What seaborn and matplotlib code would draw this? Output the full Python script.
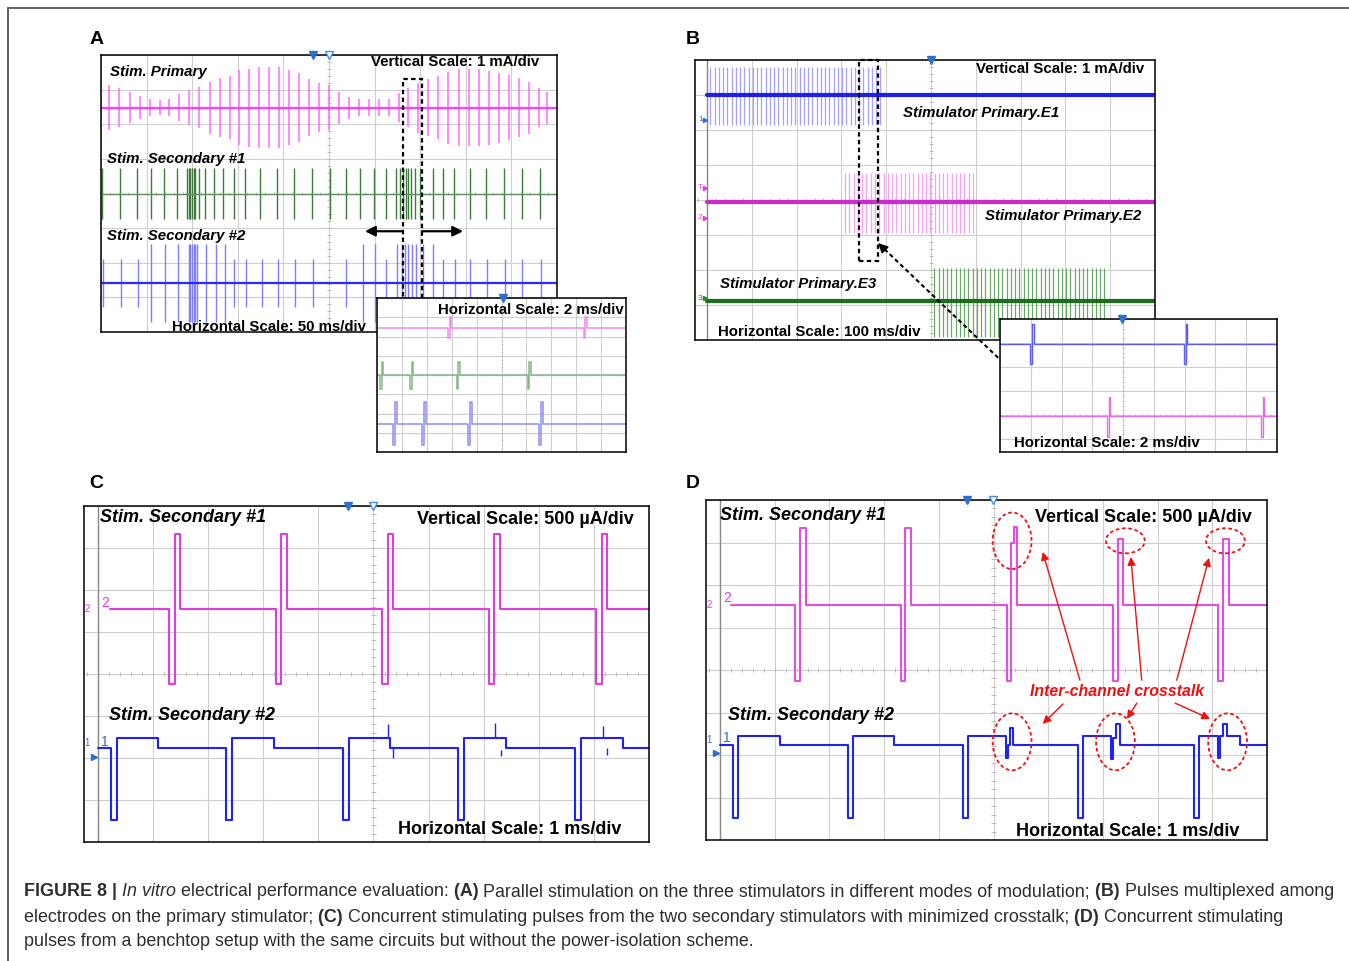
import numpy as np
import pandas as pd
import matplotlib.pyplot as plt
import seaborn as sns
from matplotlib.patches import Rectangle, Ellipse
from matplotlib.lines import Line2D

W, H = 1349, 961

# ---------------- panel A : 50 ms/div, values in divisions ----------------
A_PRI_BASE = 2.48
A_PRI_T = [0.18, 0.40, 0.64, 0.86, 1.08, 1.30, 1.50, 1.72, 1.94, 2.16, 2.38, 2.60,
           2.82, 3.03, 3.25, 3.47, 3.68, 3.90, 4.12, 4.34, 4.56, 4.78, 5.00, 5.22,
           5.44, 5.66, 5.88, 6.10, 6.32, 6.54, 6.74, 6.96, 7.18, 7.40, 7.62, 7.84,
           8.06, 8.28, 8.50, 8.72, 8.94, 9.16, 9.38, 9.60, 9.79]
A_PRI_AMP = [0.66, 0.56, 0.44, 0.34, 0.25, 0.22, 0.24, 0.40, 0.50, 0.60, 0.75, 0.85,
             0.90, 1.08, 1.13, 1.18, 1.18, 1.16, 1.09, 1.00, 0.83, 0.70, 0.65, 0.46,
             0.32, 0.24, 0.24, 0.24, 0.25, 0.41, 0.56, 0.72, 0.82, 0.90, 1.04, 1.11,
             1.11, 1.11, 1.07, 1.01, 0.94, 0.85, 0.75, 0.56, 0.46]

A_SEC1_BASE = 0.0
A_SEC1_T = [0.02, 0.42, 0.78, 1.10, 1.39, 1.66, 1.88, 1.93, 1.96, 2.00, 2.04, 2.07,
            2.16, 2.29, 2.48, 2.67, 2.91, 3.15, 3.48, 3.85, 4.23, 4.62, 5.02, 5.38,
            5.69, 5.99, 6.26, 6.48, 6.56, 6.63, 6.69, 6.74, 6.79, 6.89, 7.00, 7.27,
            7.49, 7.75, 8.10, 8.45, 8.83, 9.23, 9.62]
A_SEC1_UP = 0.74
A_SEC1_DN = 0.75

A_SEC2_BASE = -2.58
A_SEC2_T = [0.04, 0.44, 0.81, 1.10, 1.41, 1.68, 1.93, 1.96, 2.00, 2.04, 2.07, 2.11,
            2.31, 2.53, 2.71, 2.91, 3.19, 3.52, 3.88, 4.25, 4.64, 5.38, 5.75, 6.01,
            6.26, 6.50, 6.59, 6.67, 6.74, 6.81, 6.91, 7.07, 7.29, 7.51, 7.77, 8.10,
            8.46, 8.86, 9.23, 9.65]
A_SEC2_AMP = [0.70, 0.70, 0.70, 1.13, 1.13, 1.13, 1.13, 1.13, 1.13, 1.13, 1.13, 1.13,
              1.13, 1.13, 1.13, 0.70, 0.70, 0.70, 0.70, 0.70, 0.70, 0.70, 1.13, 1.13,
              0.70, 1.13, 1.13, 1.13, 1.13, 1.13, 1.13, 1.13, 1.13, 0.70, 0.70, 0.70,
              0.70, 0.70, 0.70, 0.70]

# inset A : 2 ms/div (primary, secondary #1, secondary #2)
IA_BASE = [2.43, 0.0, -2.52]
IA_T = [[2.85, 8.30], [0.12, 1.32, 3.20, 6.05], [0.65, 1.82, 3.67, 6.52]]
IA_NEG = [0.49, 0.73, 1.13]
IA_POS = [0.56, 0.70, 1.10]
IA_W = 0.07

# ---------------- panel B : 100 ms/div ----------------
B_BASE = [3.0, -0.07, -2.88]
B_E1_T = [0.07, 0.17, 0.26, 0.36, 0.45, 0.55, 0.64, 0.74, 0.83, 0.93, 1.02, 1.12,
          1.21, 1.31, 1.40, 1.50, 1.59, 1.69, 1.78, 1.88, 1.97, 2.07, 2.16, 2.26,
          2.35, 2.45, 2.54, 2.64, 2.73, 2.83, 2.92, 3.02, 3.11, 3.21, 3.30, 3.40,
          3.49, 3.59, 3.68, 3.78, 3.87]
B_E2_T = [3.08, 3.18, 3.27, 3.37, 3.46, 3.56, 3.65, 3.75, 3.84, 3.94, 4.03, 4.13,
          4.22, 4.32, 4.41, 4.51, 4.60, 4.70, 4.79, 4.89, 4.98, 5.08, 5.17, 5.27,
          5.36, 5.46, 5.55, 5.65, 5.74, 5.84, 5.93]
B_E3_T = [5.07, 5.17, 5.26, 5.36, 5.45, 5.55, 5.64, 5.74, 5.83, 5.93, 6.02, 6.12,
          6.21, 6.31, 6.40, 6.50, 6.59, 6.69, 6.78, 6.88, 6.97, 7.07, 7.16, 7.26,
          7.35, 7.45, 7.54, 7.64, 7.73, 7.83, 7.92, 8.02, 8.11, 8.21, 8.30, 8.40,
          8.49, 8.59, 8.68, 8.78, 8.87]
B_UP = [0.80, 0.85, 0.93]
B_DN = [0.86, 0.87, 1.04]

# inset B : 2 ms/div (E1, E2)
IB_BASE = [2.95, -0.05]
IB_T = [[0.97, 5.97], [3.47, 8.47]]
IB_NEG = [0.84, 0.85]
IB_POS = [0.83, 0.80]
IB_W = 0.06

# ---------------- panel C : 1 ms/div ----------------
C_MAG_BASE = 1.55
C_MAG_T = [1.29, 3.23, 5.16, 7.09, 9.04]
C_MAG_SHAPE = [(0.10, -1.78), (0.10, 1.79)]
C_BLU_BASE = -1.77
C_BLU_T = [0.23, 2.33, 4.44, 6.54, 8.66]
C_BLU_SHAPE = [(0.11, -1.70), (0.75, 0.24)]
C_SPIKE_T = [5.26, 5.36, 7.21, 7.31, 9.16, 9.23]
C_SPIKE_LO = [-1.53, -1.77, -1.53, -1.80, -1.53, -1.77]
C_SPIKE_HI = [-1.20, -2.01, -1.16, -1.95, -1.24, -1.93]

# ---------------- panel D : 1 ms/div, without power isolation ----------------
D_MAG_BASE = 1.54
D_MAG_T = [1.37, 3.30, 5.24, 7.18, 9.11]
D_MAG_SHAPES = [
    [(0.09, -1.80), (0.11, 1.80)],
    [(0.09, -1.80), (0.11, 1.80)],
    [(0.08, -1.80), (0.06, 1.44), (0.05, 1.83)],
    [(0.09, -1.80), (0.10, 1.54)],
    [(0.09, -1.80), (0.10, 1.54)],
]
D_BLU_BASE = -1.76
D_BLU_T = [0.24, 2.34, 4.45, 6.54, 8.67]
D_BLU_SHAPES = [
    [(0.09, -1.72), (0.76, 0.21)],
    [(0.09, -1.72), (0.75, 0.21)],
    [(0.09, -1.72), (0.68, 0.21), (0.05, -0.30), (0.04, 0.0), (0.05, 0.39)],
    [(0.09, -1.72), (0.52, 0.21), (0.03, -0.34), (0.06, 0.17), (0.07, 0.50)],
    [(0.09, -1.72), (0.35, 0.21), (0.03, -0.30), (0.05, 0.21), (0.08, 0.50), (0.24, 0.21)],
]
D_RING_XY = [(5.34, 3.04), (7.41, 3.04), (9.24, 3.04), (5.34, -1.69), (7.23, -1.69), (9.28, -1.69)]
D_RING_H = [1.33, 0.59, 0.59, 1.34, 1.34, 1.34]

CAPTION = [
    [("FIGURE 8 |", "bold", "normal"), (" In vitro", "normal", "italic"),
     (" electrical performance evaluation:", "normal", "normal"), (" (A)", "bold", "normal"),
     (" Parallel stimulation on the three stimulators in different modes of modulation;", "normal", "normal"),
     (" (B)", "bold", "normal"), (" Pulses multiplexed among", "normal", "normal")],
    [("electrodes on the primary stimulator;", "normal", "normal"), (" (C)", "bold", "normal"),
     (" Concurrent stimulating pulses from the two secondary stimulators with minimized crosstalk;", "normal", "normal"),
     (" (D)", "bold", "normal"), (" Concurrent stimulating", "normal", "normal")],
    [("pulses from a benchtop setup with the same circuits but without the power-isolation scheme.", "normal", "normal")],
]

GRID = "#cfcfcf"
TICK = "#b4b4b4"

sns.set_style("white")
plt.rcParams['font.family'] = ['Liberation Sans', 'DejaVu Sans']

fig = plt.figure(figsize=(W / 100, H / 100), dpi=100)


def px_rect(x0, y0, x1, y1):
    return [x0 / W, 1 - y1 / H, (x1 - x0) / W, (y1 - y0) / H]


def scope(box, xlim, ylim, xc, yc, z=1):
    # oscilloscope screen: div grid + centre cross with 0.2 div ticks
    ax = fig.add_axes(px_rect(*box), zorder=z)
    ax.set_facecolor("white")
    gx = np.arange(np.ceil(xlim[0]), xlim[1] + 0.01)
    gy = np.arange(np.ceil(ylim[0]), ylim[1] + 0.01)
    ax.vlines(gx, ylim[0], ylim[1], color=GRID, lw=0.8, zorder=0)
    ax.hlines(gy, xlim[0], xlim[1], color=GRID, lw=0.8, zorder=0)
    tx = np.arange(np.ceil(xlim[0] * 5) / 5, xlim[1], 0.2)
    ty = np.arange(np.ceil(ylim[0] * 5) / 5, ylim[1], 0.2)
    ax.vlines(tx, yc - 0.05, yc + 0.05, color=TICK, lw=0.6, zorder=0)
    ax.hlines(ty, xc - 0.04, xc + 0.04, color=TICK, lw=0.6, zorder=0)
    ax.set(xlim=xlim, ylim=ylim, xticks=[], yticks=[])
    for s in ax.spines.values():
        s.set_visible(True)
        s.set_color("black")
        s.set_linewidth(1.1)
    return ax


def trace(ax, xs, ys, color, lw):
    xl, yl = ax.get_xlim(), ax.get_ylim()
    sns.lineplot(x=xs, y=ys, sort=False, estimator=None, color=color, lw=lw,
                 ax=ax, legend=False)
    ax.set(xlim=xl, ylim=yl, xlabel="", ylabel="")


def wave(t0, t1, base, starts, shapes):
    xs, ys = [t0], [base]
    per_pulse = isinstance(shapes[0][0], (list, tuple))
    for k, s in enumerate(starts):
        shape = shapes[k] if per_pulse else shapes
        t = s
        xs.append(t)
        ys.append(base)
        for w, off in shape:
            xs += [t, t + w]
            ys += [base + off, base + off]
            t += w
        xs.append(t)
        ys.append(base)
    xs.append(t1)
    ys.append(base)
    return xs, ys


def ftxt(px, py, s, size, weight="bold", style="normal", color="black", ha="left"):
    fig.text(px / W, 1 - py / H, s, fontsize=size, fontweight=weight, fontstyle=style,
             color=color, ha=ha, va="center", zorder=10)


def trig(ax, xs, top):
    ax.plot(xs[:1], [top], marker="v", ms=6, color="#2f6fd0", clip_on=False, zorder=5)
    if len(xs) > 1:
        ax.plot(xs[1:], [top] * (len(xs) - 1), marker="v", ms=6, mfc="white",
                mec="#4a8be0", ls="none", clip_on=False, zorder=5)


# ================= A =================
axA = scope((101, 55, 557, 332), (0, 10), (-4, 4), 5, 0)
pri_amp = np.array(A_PRI_AMP)
axA.vlines(A_PRI_T, A_PRI_BASE - pri_amp, A_PRI_BASE + pri_amp, color="#ff6bff", lw=1.1)
axA.vlines(A_SEC1_T, A_SEC1_BASE - A_SEC1_DN, A_SEC1_BASE + A_SEC1_UP, color="#3f7a3f", lw=1.0)
sec2_amp = np.array(A_SEC2_AMP)
axA.vlines(A_SEC2_T, A_SEC2_BASE - sec2_amp, A_SEC2_BASE + sec2_amp, color="#7d7dff", lw=1.0)
trace(axA, [0, 10], [A_PRI_BASE] * 2, "#ff3cff", 1.6)
trace(axA, [0, 10], [A_SEC1_BASE] * 2, "#5f8f5f", 1.0)
trace(axA, [0, 10], [A_SEC2_BASE] * 2, "#2a2aff", 1.6)
trig(axA, [4.65, 5.0], 4)
axA.add_patch(Rectangle((6.62, -3.6), 0.42, 6.91, fill=False, ec="black", lw=1.6,
                        ls=(0, (2, 1.5)), clip_on=False, zorder=6))
for x_from, x_to in [(6.62, 5.79), (7.04, 7.94)]:
    axA.annotate("", xy=(x_to, -1.09), xytext=(x_from, -1.09),
                 arrowprops=dict(arrowstyle="-|>", color="black", lw=1.6,
                                 mutation_scale=15, shrinkA=0, shrinkB=0))

axIA = scope((377, 298, 626, 452), (0, 10), (-4, 4), 5, 0, z=2)
for base, ts, neg, pos, col in zip(IA_BASE, IA_T, IA_NEG, IA_POS,
                                   ["#ef8cef", "#86b586", "#8e8ef2"]):
    xs, ys = wave(0, 10, base, ts, [(IA_W, -neg), (IA_W, pos)])
    trace(axIA, xs, ys, col, 1.1)
trig(axIA, [5.06], 4)

ftxt(90, 40, "A", 14)
ftxt(110, 72, "Stim. Primary", 10.8, style="italic")
ftxt(371, 62, "Vertical Scale: 1 mA/div", 10.8)
ftxt(107, 159, "Stim. Secondary #1", 10.8, style="italic")
ftxt(107, 236, "Stim. Secondary #2", 10.8, style="italic")
ftxt(172, 327, "Horizontal Scale: 50 ms/div", 10.8)
ftxt(438, 310, "Horizontal Scale: 2 ms/div", 10.8)

# ================= B =================
axB = scope((695, 60, 1155, 340), (-0.268, 10), (-4, 4), 5, 0)
axB.axvline(0, color="#8a8a8a", lw=1.0, zorder=0)
for ts, base, up, dn, col in zip([B_E1_T, B_E2_T, B_E3_T], B_BASE, B_UP, B_DN,
                                 ["#a3a3ff", "#f2a2f2", "#6aa86a"]):
    axB.vlines(ts, base - dn, base + up, color=col, lw=0.9)
for base, col in zip(B_BASE, ["#1f1fe6", "#cc2ccc", "#1c6e1c"]):
    trace(axB, [0, 10], [base] * 2, col, 3.0)
trig(axB, [5.0], 4)
for yy, s, col in [(2.29, "1", "#2f6fd0"), (0.35, "T", "#e040e0"),
                   (-0.51, "2", "#e040e0"), (-2.80, "3", "#2a8a2a")]:
    axB.text(-0.15, yy, s, fontsize=6, color=col, ha="center", va="center")
    axB.plot([-0.05], [yy], marker=">", ms=3, color=col, clip_on=False)
axB.add_patch(Rectangle((3.39, -1.74), 0.43, 5.74, fill=False, ec="black", lw=1.6,
                        ls=(0, (2, 1.5)), clip_on=False, zorder=6))
axB.plot([6.50, 3.90], [-4.51, -1.33], color="black", lw=1.5, ls=(0, (2, 1.5)),
         clip_on=False, zorder=6)
axB.annotate("", xy=(3.82, -1.23), xytext=(3.97, -1.42),
             arrowprops=dict(arrowstyle="-|>", color="black", lw=1.2,
                             mutation_scale=14, shrinkA=0, shrinkB=0))

axIB = scope((1000, 319, 1277, 452), (0, 9), (-1.53, 4), 4, 0, z=2)
for base, ts, neg, pos, col in zip(IB_BASE, IB_T, IB_NEG, IB_POS, ["#5c5cf0", "#e070e0"]):
    xs, ys = wave(0, 9, base, ts, [(IB_W, -neg), (IB_W, pos)])
    trace(axIB, xs, ys, col, 1.0)
trig(axIB, [3.96], 4)

ftxt(686, 40, "B", 14)
ftxt(976, 69, "Vertical Scale: 1 mA/div", 10.8)
ftxt(903, 113, "Stimulator Primary.E1", 10.8, style="italic")
ftxt(985, 216, "Stimulator Primary.E2", 10.8, style="italic")
ftxt(720, 284, "Stimulator Primary.E3", 10.8, style="italic")
ftxt(718, 332, "Horizontal Scale: 100 ms/div", 10.8)
ftxt(1014, 443, "Horizontal Scale: 2 ms/div", 10.8)

# ================= C =================
axC = scope((84, 506, 649, 842), (-0.254, 10), (-4, 4), 5, 0)
axC.axvline(0, color="#8a8a8a", lw=1.0, zorder=0)
xs, ys = wave(0.21, 10, C_MAG_BASE, C_MAG_T, C_MAG_SHAPE)
trace(axC, xs, ys, "#e03ce0", 1.5)
xs, ys = wave(0.0, 10, C_BLU_BASE, C_BLU_T, C_BLU_SHAPE)
trace(axC, xs, ys, "#1f1fff", 1.5)
axC.vlines(C_SPIKE_T, C_SPIKE_LO, C_SPIKE_HI, color="#1f1fff", lw=1.0)
trig(axC, [4.54, 4.99], 4)

ftxt(89, 484, "C", 14)
ftxt(100, 517, "Stim. Secondary #1", 13, style="italic")
ftxt(417, 520, "Vertical Scale: 500 µA/div", 13)
ftxt(109, 716, "Stim. Secondary #2", 13, style="italic")
ftxt(398, 830, "Horizontal Scale: 1 ms/div", 13)

# ================= D =================
axD = scope((706, 500, 1267, 840), (-0.256, 10), (-4, 4), 5, 0)
axD.axvline(0, color="#8a8a8a", lw=1.0, zorder=0)
xs, ys = wave(0.2, 10, D_MAG_BASE, D_MAG_T, D_MAG_SHAPES)
trace(axD, xs, ys, "#e050e0", 1.5)
xs, ys = wave(0.0, 10, D_BLU_BASE, D_BLU_T, D_BLU_SHAPES)
trace(axD, xs, ys, "#2323f0", 1.5)
trig(axD, [4.52, 4.99], 4)

for ax, mb, bb in [(axC, C_MAG_BASE, C_BLU_BASE), (axD, D_MAG_BASE, D_BLU_BASE)]:
    ax.text(-0.2, mb, "2", fontsize=7, color="#e040e0", ha="center", va="center")
    ax.text(0.06, mb + 0.15, "2", fontsize=10, color="#e040e0", ha="left", va="center")
    ax.text(-0.2, bb + 0.12, "1", fontsize=7, color="#2f6fd0", ha="center", va="center")
    ax.text(0.06, bb + 0.16, "1", fontsize=10, color="#2f6fd0", ha="left", va="center")
    ax.plot([-0.08], [bb - 0.2], marker=">", ms=4, color="#2f6fd0", clip_on=False)

for (cx, cy), hh in zip(D_RING_XY, D_RING_H):
    axD.add_patch(Ellipse((cx, cy), 0.71, hh, fill=False, ec="#ee1111", lw=1.3,
                          ls=(0, (2, 1.5)), zorder=6))
for (x0, y0), (x1, y1) in [((6.58, -0.24), (5.90, 2.78)), ((7.71, -0.24), (7.51, 2.66)),
                           ((8.35, -0.24), (8.94, 2.64)), ((6.27, -0.80), (5.90, -1.27)),
                           ((7.62, -0.78), (7.44, -1.15)), ((8.32, -0.78), (8.96, -1.15))]:
    axD.annotate("", xy=(x1, y1), xytext=(x0, y0),
                 arrowprops=dict(arrowstyle="-|>", color="#ee1111", lw=1.0,
                                 mutation_scale=12, shrinkA=0, shrinkB=0))

ftxt(686, 484, "D", 14)
ftxt(720, 516, "Stim. Secondary #1", 13, style="italic")
ftxt(1035, 518, "Vertical Scale: 500 µA/div", 13)
ftxt(728, 716, "Stim. Secondary #2", 13, style="italic")
ftxt(1016, 831, "Horizontal Scale: 1 ms/div", 13)
ftxt(1117, 692, "Inter-channel crosstalk", 11.4, style="italic", color="#ee1111", ha="center")

# ================= frame + caption =================
fig.add_artist(Line2D([8 / W, 1], [1 - 8 / H] * 2, color="#555555", lw=1.3))
fig.add_artist(Line2D([8 / W] * 2, [0, 1 - 8 / H], color="#555555", lw=1.3))

renderer = fig.canvas.get_renderer()
for line, py in zip(CAPTION, [892, 917, 942]):
    x = 24
    for s, wgt, sty in line:
        t = fig.text(x / W, 1 - py / H, s, fontsize=12.85, fontweight=wgt, fontstyle=sty,
                     color="#2e2e2e", ha="left", va="center")
        x = t.get_window_extent(renderer=renderer).x1

fig.savefig("out.png", dpi=100)
